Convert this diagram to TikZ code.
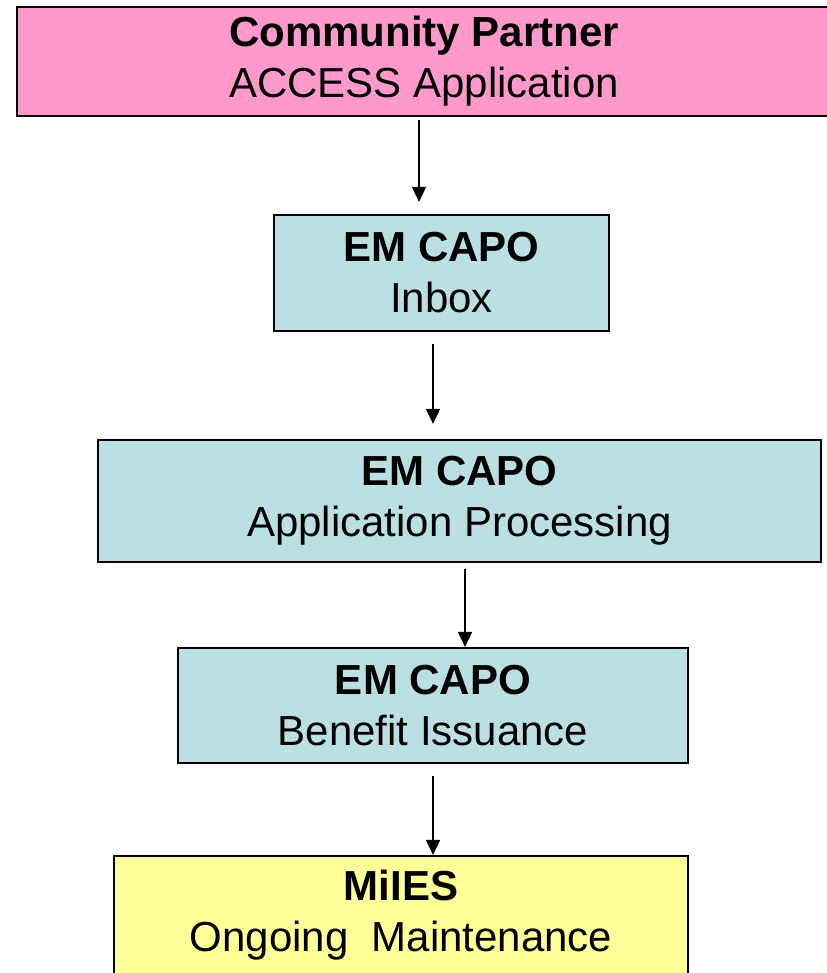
\documentclass[tikz,border=0pt]{standalone}
\usepackage{fontspec}
\setmainfont{Liberation Sans}
\usetikzlibrary{arrows.meta}

\definecolor{partnerpink}{HTML}{FF99CC}
\definecolor{capoblue}{HTML}{BBE0E3}
\definecolor{milesyellow}{HTML}{FFFF99}

\begin{document}
\begin{tikzpicture}[x=1pt, y=-1pt,
    stage/.style={draw=black, line width=2.2pt, inner sep=0pt, align=center,
                  font=\fontsize{42}{51}\selectfont},
    flow/.style={-{Triangle[length=15pt,width=14pt]}, line width=1.8pt}]

 \useasboundingbox (0,0) rectangle (826,973);

	%draw stages
    \foreach \name/\cx/\cy/\w/\h/\col/\head/\body in {
        access/424/61.5/814/109/partnerpink/Community Partner/ACCESS Application,
        inbox/441.5/273/335/116/capoblue/EM CAPO/Inbox,
        process/459.5/501/723/122/capoblue/EM CAPO/Application Processing,
        issue/433/705.5/510/115/capoblue/EM CAPO/Benefit Issuance,
        miles/401/915/574/118/milesyellow/MiIES/Ongoing~ Maintenance }{
        \node[stage, fill=\col, minimum width=\w pt, minimum height=\h pt] (\name) at (\cx,\cy) {\textbf{\head}\\\body};
    }

	%draw flow
    \foreach \from/\to/\xa/\ya/\xb/\yb in {
        access/inbox/-5/-3/-22.5/12,
        inbox/process/-8.5/-12/-26.5/15,
        process/issue/5.5/-6/32/0,
        issue/miles/0/-12/32/0 }{
        \draw[flow] ([xshift=\xa pt, yshift=\ya pt]\from.south) -- ([xshift=\xb pt, yshift=\yb pt]\to.north);
    }

\end{tikzpicture}
\end{document}
